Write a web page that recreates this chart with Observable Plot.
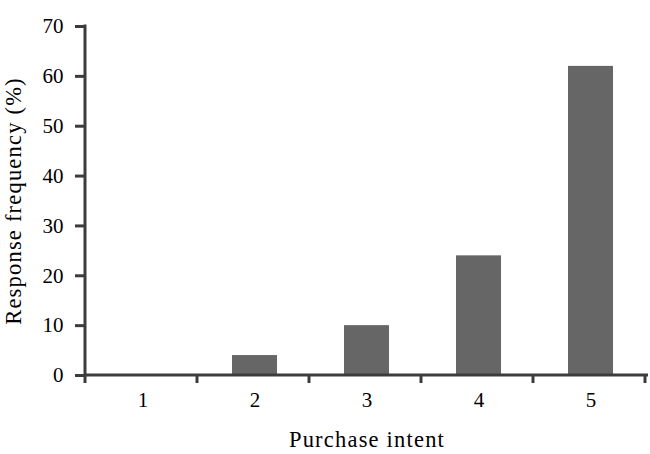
<!DOCTYPE html>
<html><head><meta charset="utf-8">
<script src="https://cdn.jsdelivr.net/npm/d3@7"></script>
<script src="https://cdn.jsdelivr.net/npm/@observablehq/plot@0.6"></script>
<style>
body{margin:0;background:#fff} svg{display:block}
[aria-label="x-axis label"] text, [aria-label="y-axis label"] text {letter-spacing: 1.2px; font-size: 22.5px;}
</style>
</head><body><div id="chart"></div>
<script>
const categories = ["1", "2", "3", "4", "5"];
const frequencies = [0, 4, 10, 24, 62];
const yTicks = [0, 10, 20, 30, 40, 50, 60, 70];
const xLabel = "Purchase intent";
const yLabel = "Response frequency (%)";

const data = categories.map((c, i) => ({intent: c, freq: frequencies[i]}));
const axisColor = "#3c3c3c";
const font = "'Liberation Serif', 'Times New Roman', serif";

// axis lines and category-boundary ticks drawn from the plot's own scales
const axisFrame = (index, scales, values, dims) => {
  const x = scales.x, y = scales.y;
  const [r0, r1] = x.range();
  const n = x.domain().length;
  const step = typeof x.step === "function" ? x.step() : (r1 - r0) / n;
  const y0 = y(0), yTop = y(d3.max(yTicks));
  const g = d3.create("svg:g").attr("stroke", axisColor).attr("fill", "none");
  g.append("line").attr("x1", r0).attr("x2", r0).attr("y1", yTop).attr("y2", y0)
    .attr("stroke-width", 3).attr("stroke-linecap", "square");
  g.append("line").attr("x1", r0).attr("x2", r1).attr("y1", y0).attr("y2", y0)
    .attr("stroke-width", 3);
  for (let k = 0; k <= n; ++k) {
    const xb = r0 + k * step;
    g.append("line").attr("x1", xb).attr("x2", xb).attr("y1", y0).attr("y2", y0 + 8)
      .attr("stroke-width", 3);
  }
  return g.node();
};

const chart = Plot.plot({
  width: 650,
  height: 454,
  marginLeft: 85,
  marginRight: 2,
  marginTop: 26,
  marginBottom: 79,
  style: {fontFamily: font, fontSize: "21px", color: "#000", background: "#fff"},
  x: {type: "band", domain: categories, paddingInner: 0.6, paddingOuter: 0.3, align: 0.5},
  y: {domain: [0, 70]},
  marks: [
    Plot.barY(data, {x: "intent", y: "freq", fill: "#666666"}),
    Plot.axisY({ticks: yTicks, tickSize: 10, tickPadding: 12, stroke: axisColor, strokeWidth: 3,
      fontSize: 21, fontFamily: font,
      label: yLabel, labelAnchor: "center", labelArrow: "none", labelOffset: 80}),
    Plot.axisX({tickSize: 0, tickPadding: 17, fontSize: 21, fontFamily: font,
      label: xLabel, labelAnchor: "center", labelArrow: "none", labelOffset: 71}),
    axisFrame
  ]
});
document.getElementById("chart").append(chart);
</script>
</body></html>
